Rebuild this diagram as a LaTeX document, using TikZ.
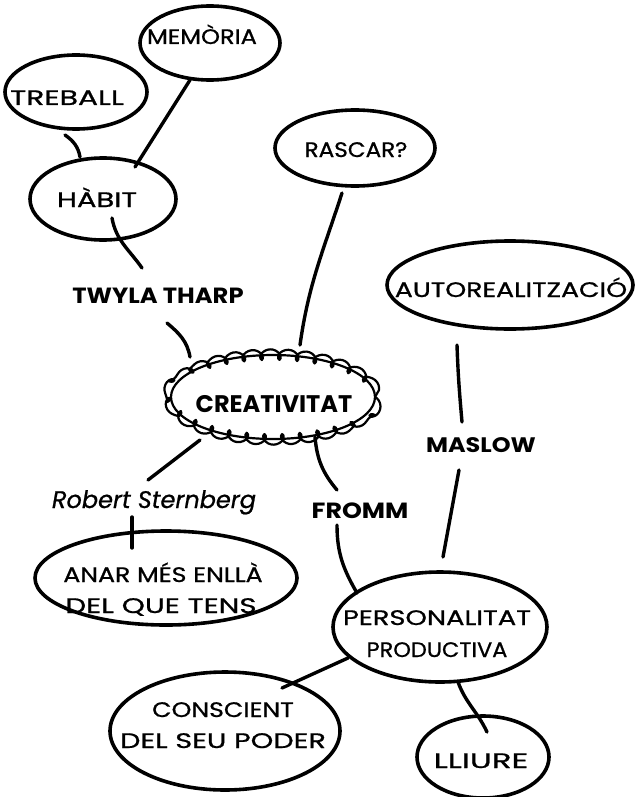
\documentclass[tikz,border=0pt]{standalone}
\usepackage{fontspec}
\setmainfont{Poppins}
\newfontfamily\hand{Poppins}[FakeBold=0.8]
\usetikzlibrary{shapes.geometric,decorations.pathmorphing}
\newcommand{\hsc}[2]{\scalebox{#1}[1]{#2}}
\begin{document}
\begin{tikzpicture}[x=1pt,y=-1pt,line width=3.6pt,line cap=round,line join=round,
  bub/.style={draw,ellipse,inner sep=0pt,outer sep=0pt},
  txt/.style={anchor=base,inner sep=0pt,font=\fontsize{21}{24}\selectfont\hand},
  lab/.style={anchor=base,inner sep=0pt,font=\fontsize{22}{24}\selectfont\bfseries},
  con/.style={line width=3.4pt}]
\fill[white] (0,0) rectangle (634,797);
\useasboundingbox (0,0) rectangle (634,797);
% bubbles
\node[bub,minimum width=140,minimum height=74] (mem) at (210,43) {};
\node[bub,minimum width=142,minimum height=74] (tre) at (76,92) {};
\node[bub,minimum width=146,minimum height=82] (hab) at (103,199) {};
\node[bub,minimum width=160,minimum height=76] (ras) at (355,148) {};
\node[bub,minimum width=246,minimum height=88] (aut) at (510,285) {};
\node[bub,minimum width=262,minimum height=94] (ana) at (166,578) {};
\node[bub,minimum width=214,minimum height=110] (per) at (440,627) {};
\node[bub,minimum width=230,minimum height=118] (con) at (225,731) {};
\node[bub,minimum width=132,minimum height=82] (lli) at (483,757) {};
\node[ellipse,minimum width=206,minimum height=86,inner sep=0pt] (cre) at (273,397) {};
\draw[line width=2.2pt] (cre.center) ellipse [x radius=102,y radius=42];
\draw[line width=2.2pt,decorate,decoration={coil,amplitude=5.5pt,segment length=18pt,aspect=0.9}]
  (cre.center) ellipse [x radius=102,y radius=42];
% texts
\node[txt] (memt) at (202,44) {\hsc{1.15}{MEMÒRIA}};
\node[txt] (tret) at (67,105) {\hsc{1.42}{TREBALL}};
\node[txt] (habt) at (97,207) {\hsc{1.38}{HÀBIT}};
\node[txt] (rast) at (356,157) {\hsc{1.1}{RASCAR?}};
\node[txt] (autt) at (511,297) {\hsc{1.27}{AUTOREALITZACIÓ}};
\node[txt] (anat1) at (163,582) {\hsc{1.2}{ANAR MÉS ENLLÀ}};
\node[txt] (anat2) at (161,613) {\hsc{1.4}{DEL QUE TENS}};
\node[txt] (pert1) at (437,625) {\hsc{1.3}{PERSONALITAT}};
\node[txt] (pert2) at (437,657) {\hsc{1.07}{PRODUCTIVA}};
\node[txt] (cont1) at (223,717) {\hsc{1.2}{CONSCIENT}};
\node[txt] (cont2) at (223,748) {\hsc{1.37}{DEL SEU PODER}};
\node[txt] (llit) at (481,768) {\hsc{1.55}{LLIURE}};
\node[lab,font=\fontsize{24}{26}\selectfont\bfseries] (cret) at (274,412) {CREATIVITAT};
% labels
\node[lab] (twy) at (158,303) {\hsc{1.1}{TWYLA THARP}};
\node[lab,font=\fontsize{21}{24}\selectfont\bfseries] (mas) at (481,452) {\hsc{1.14}{MASLOW}};
\node[lab] (fro) at (360,518) {\hsc{1.15}{FROMM}};
\node[anchor=base,inner sep=0pt,font=\fontsize{24}{26}\selectfont\hand\itshape] (rob) at (154,508) {Robert Sternberg};
% connectors
\draw[con] ([shift={(-20,37)}]mem.center) -- ([shift={(32,-32)}]hab.center);
\draw[con] ([shift={(-11,43)}]tre.center) to[out=-35,in=100] ([shift={(-23,-42)}]hab.center);
\draw[con] ([shift={(9,19)}]hab.center) to[out=-80,in=125] ([shift={(-16,-35)}]twy.base);
\draw[con] ([shift={(9,20)}]twy.base) to[out=-40,in=100] ([shift={(-83,-40)}]cre.center);
\draw[con] ([shift={(-13,45)}]ras.center) to[out=-108,in=82] ([shift={(27,-52)}]cre.center);
\draw[con] ([shift={(-73,43)}]cre.center) -- ([shift={(-6,-28)}]rob.base);
\draw[con] ([shift={(-22,9)}]rob.base) -- ([shift={(-34,-30)}]ana.center);
\draw[con] ([shift={(42,40)}]cre.center) to[out=-85,in=130] ([shift={(-23,-28)}]fro.base);
\draw[con] ([shift={(-23,7)}]fro.base) to[out=-90,in=120] ([shift={(-83,-34)}]per.center);
\draw[con] ([shift={(-53,60)}]aut.center) to[out=-88,in=95] ([shift={(-19,-30)}]mas.base);
\draw[con] ([shift={(-22,18)}]mas.base) -- ([shift={(3,-70)}]per.center);
\draw[con] ([shift={(-92,31)}]per.center) -- ([shift={(57,-43)}]con.center);
\draw[con] ([shift={(18,55)}]per.center) to[out=-70,in=115] ([shift={(4,-25)}]lli.center);
\end{tikzpicture}
\end{document}
